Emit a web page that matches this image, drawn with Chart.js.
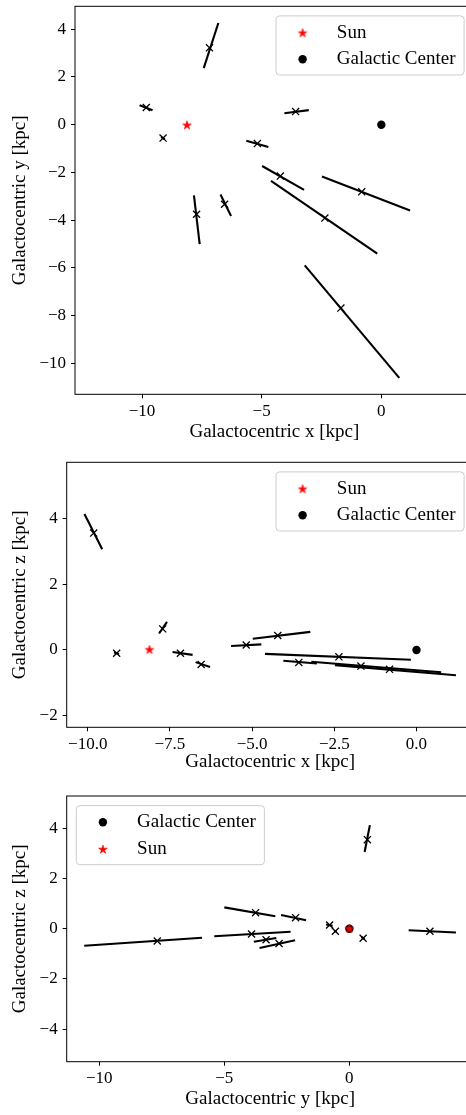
<!DOCTYPE html>
<html><head><meta charset="utf-8">
<script src="https://cdn.jsdelivr.net/npm/chart.js@4.4.1/dist/chart.umd.min.js"></script>
<style>
html,body{margin:0;padding:0;background:#fff;overflow:hidden;width:466px;height:1115px;position:relative;}
canvas{position:absolute;left:0;}
</style></head><body>
<canvas id="c1" width="480" height="448" style="top:0px"></canvas>
<canvas id="c2" width="480" height="330" style="top:448px"></canvas>
<canvas id="c3" width="480" height="337" style="top:778px"></canvas>
<script>
// ---- data (kpc) ----
const objX = [-7.18, -9.82, -9.12, -3.58, -5.18, -4.22, -2.36, -0.82, -7.72, -6.55, -1.69];
const objY = [3.22, 0.72, -0.56, 0.55, -0.79, -2.15, -3.91, -2.81, -3.75, -3.33, -7.68];
const objZ = [-0.10, 3.55, -0.10, -0.38, 0.15, 0.44, -0.21, -0.59, 0.64, -0.44, -0.49];
const segX1 = [-7.42, -10.10, -9.20, -4.05, -5.64, -4.98, -4.61, -2.48, -7.83, -6.72, -3.20];
const segY1 = [2.37, 0.82, -0.51, 0.48, -0.67, -1.73, -2.35, -2.17, -2.96, -2.92, -5.89];
const segZ1 = [-0.06, 4.13, -0.08, -0.33, 0.12, 0.34, -0.12, -0.46, 0.50, -0.37, -0.36];
const segX2 = [-6.81, -9.56, -9.05, -3.03, -4.72, -3.23, -0.17, 1.20, -7.59, -6.28, 0.75];
const segY2 = [4.26, 0.61, -0.61, 0.61, -0.93, -2.73, -5.40, -3.59, -5.00, -3.82, -10.60];
const segZ2 = [-0.15, 3.06, -0.12, -0.41, 0.17, 0.55, -0.30, -0.77, 0.85, -0.52, -0.68];
const sunPos = {x: -8.122, y: 0.0, z: 0.0208};
const gcPos = {x: 0.0, y: 0.0, z: 0.0};
const ticksXYx = [-10, -5, 0];
const ticksXYy = [-10, -8, -6, -4, -2, 0, 2, 4];
const ticksXZx = [-10, -7.5, -5, -2.5, 0];
const ticksXZy = [-2, 0, 2, 4];
const ticksYZx = [-10, -5, 0];
const ticksYZy = [-4, -2, 0, 2, 4];

const center = {x: objX, y: objY, z: objZ};
const end1 = {x: segX1, y: segY1, z: segZ1};
const end2 = {x: segX2, y: segY2, z: segZ2};

const FONT = 'Liberation Serif, Times New Roman, serif';

function makeStar(r, color) {
  const s = Math.ceil(r * 2 + 2);
  const c = document.createElement('canvas');
  c.width = s; c.height = s;
  const g = c.getContext('2d');
  g.beginPath();
  for (let i = 0; i < 10; i++) {
    const rr = (i % 2) ? r * 0.382 : r;
    const a = -Math.PI / 2 + i * Math.PI / 5;
    g.lineTo(s / 2 + rr * Math.cos(a), s / 2 + 0.6 + rr * Math.sin(a));
  }
  g.closePath();
  g.fillStyle = color; g.fill();
  g.strokeStyle = color; g.lineWidth = 0.6; g.stroke();
  return c;
}
const starImg = makeStar(4.6, '#ff0000');

function fmt(v, dec) {
  const s = dec ? Math.abs(v).toFixed(1) : String(Math.abs(v));
  return (v < 0 ? '\u2212' : '') + s;
}

const framePlugin = {
  id: 'frame',
  afterDatasetsDraw(chart) {
    const {ctx, chartArea: a} = chart;
    ctx.save();
    ctx.strokeStyle = '#000'; ctx.lineWidth = 1;
    ctx.strokeRect(a.left, a.top, a.right - a.left, a.bottom - a.top);
    ctx.restore();
  }
};

const legendPlugin = {
  id: 'mplLegend',
  afterDraw(chart, args, opts) {
    const {ctx, chartArea: a} = chart;
    const fs = 19, pad = 7.6, handle = 38, tpad = 15.2, rowH = 17.2, gap = 9.5, margin = 9.6;
    ctx.save();
    ctx.font = fs + 'px ' + FONT;
    const items = opts.labels.map(l => chart.data.datasets.find(d => d.label === l));
    const tw = Math.max(...opts.labels.map(l => ctx.measureText(l).width));
    const w = pad + handle + tpad + tw + pad + 1;
    const h = pad * 2 + rowH * items.length + gap * (items.length - 1);
    const left = opts.loc === 'upper left' ? a.left + margin : a.right - margin - w;
    const top = a.top + margin;
    ctx.beginPath();
    ctx.roundRect(left, top, w, h, 3.5);
    ctx.fillStyle = 'rgba(255,255,255,0.8)'; ctx.fill();
    ctx.strokeStyle = '#cccccc'; ctx.lineWidth = 1; ctx.stroke();
    items.forEach((d, i) => {
      const cy = top + pad + rowH / 2 + i * (rowH + gap) + 0.5;
      const mx = left + pad + handle / 2;
      if (d.pointStyle instanceof HTMLCanvasElement) {
        ctx.drawImage(d.pointStyle, mx - d.pointStyle.width / 2, cy - d.pointStyle.height / 2);
      } else {
        ctx.beginPath(); ctx.arc(mx, cy, d.pointRadius, 0, Math.PI * 2);
        ctx.fillStyle = d.backgroundColor; ctx.fill();
      }
      ctx.fillStyle = '#000'; ctx.textBaseline = 'middle'; ctx.textAlign = 'left';
      ctx.fillText(d.label, left + pad + handle + tpad, cy);
    });
    ctx.restore();
  }
};

function zeroPad(s) {
  s.paddingTop = 0; s.paddingBottom = 0; s.paddingLeft = 0; s.paddingRight = 0;
}

function buildChart(id, cfg) {
  const {h, v, xr, yr, xt, yt, xTitle, yTitle, padTop, yW, xH, legend, dec, sunOnTop, right} = cfg;
  const datasets = [];
  for (let i = 0; i < objX.length; i++) {
    datasets.push({
      label: 'seg' + i,
      data: [{x: end1[h][i], y: end1[v][i]}, {x: end2[h][i], y: end2[v][i]}],
      showLine: true, borderColor: '#000', borderWidth: 2.1, pointRadius: 0,
      borderCapStyle: 'butt', order: 5
    });
  }
  datasets.push({
    label: 'centers',
    data: objX.map((_, i) => ({x: center[h][i], y: center[v][i]})),
    showLine: false, pointStyle: 'crossRot', pointRadius: 5, borderWidth: 1.3,
    borderColor: '#000', backgroundColor: '#000', order: 4
  });
  datasets.push({
    label: 'Sun', data: [{x: sunPos[h], y: sunPos[v]}], showLine: false,
    pointStyle: starImg, pointRadius: 5, order: sunOnTop ? 1 : 2
  });
  datasets.push({
    label: 'Galactic Center', data: [{x: gcPos[h], y: gcPos[v]}], showLine: false,
    pointStyle: 'circle', pointRadius: 4.2, backgroundColor: '#000', borderColor: '#000',
    borderWidth: 0, order: sunOnTop ? 2 : 1
  });
  const tickCommon = {color: '#000', autoSkip: false, maxRotation: 0, minRotation: 0};
  const gridCommon = {display: true, drawOnChartArea: false, drawTicks: true, tickLength: 4,
    tickWidth: 1, tickColor: '#000', color: '#000'};
  const chart = new Chart(document.getElementById(id), {
    type: 'scatter',
    data: {datasets},
    options: {
      responsive: false, animation: false, devicePixelRatio: 1,
      layout: {padding: {left: 0, right: 1, top: padTop, bottom: 0}},
      plugins: {legend: {display: false}, tooltip: {enabled: false}, mplLegend: legend},
      scales: {
        x: {
          type: 'linear', position: 'bottom', min: xr[0], max: xr[1],
          afterBuildTicks: s => { s.ticks = xt.map(t => ({value: t})); },
          afterFit: s => { s.height = xH; zeroPad(s); },
          grid: gridCommon, border: {display: false},
          ticks: Object.assign({}, tickCommon, {padding: 3, font: {family: FONT, size: 17},
            callback: val => fmt(val, dec)}),
          title: {display: true, text: xTitle, color: '#000', font: {family: FONT, size: 19},
            padding: {top: 0, bottom: 5}}
        },
        y: {
          type: 'linear', position: 'left', min: yr[0], max: yr[1],
          afterBuildTicks: s => { s.ticks = yt.map(t => ({value: t})); },
          afterFit: s => { s.width = yW; zeroPad(s); },
          grid: gridCommon, border: {display: false},
          ticks: Object.assign({}, tickCommon, {padding: 5, font: {family: FONT, size: 17},
            callback: val => fmt(val, false)}),
          title: {display: true, text: yTitle, color: '#000', font: {family: FONT, size: 19},
            padding: {top: 9, bottom: 0}}
        }
      }
    },
    plugins: [framePlugin, legendPlugin]
  });
  // nudge layout padding so the plot area lands exactly where the reference has it
  const pad = chart.options.layout.padding;
  pad.right = pad.right + (chart.chartArea.right - right);
  pad.top = pad.top - (chart.chartArea.top - padTop);
  chart.update();
  return chart;
}

buildChart('c1', {h: 'x', v: 'y', xr: [-12.8, 3.86], yr: [-11.29, 4.96], xt: ticksXYx, yt: ticksXYy,
  xTitle: 'Galactocentric x [kpc]', yTitle: 'Galactocentric y [kpc]', padTop: 4.3, yW: 75, xH: 53.7,
  legend: {labels: ['Sun', 'Galactic Center'], loc: 'upper right'}, dec: false, sunOnTop: false, right: 475});
buildChart('c2', {h: 'x', v: 'z', xr: [-10.64, 1.74], yr: [-2.35, 5.70], xt: ticksXZx, yt: ticksXZy,
  xTitle: 'Galactocentric x [kpc]', yTitle: 'Galactocentric z [kpc]', padTop: 14.3, yW: 66.7, xH: 50.7,
  legend: {labels: ['Sun', 'Galactic Center'], loc: 'upper right'}, dec: true, sunOnTop: false, right: 475});
buildChart('c3', {h: 'y', v: 'z', xr: [-11.3, 4.97], yr: [-5.3, 5.29], xt: ticksYZx, yt: ticksYZy,
  xTitle: 'Galactocentric y [kpc]', yTitle: 'Galactocentric z [kpc]', padTop: 18, yW: 66.7, xH: 53.3,
  legend: {labels: ['Galactic Center', 'Sun'], loc: 'upper left'}, dec: false, sunOnTop: true, right: 475});
</script>
</body></html>
